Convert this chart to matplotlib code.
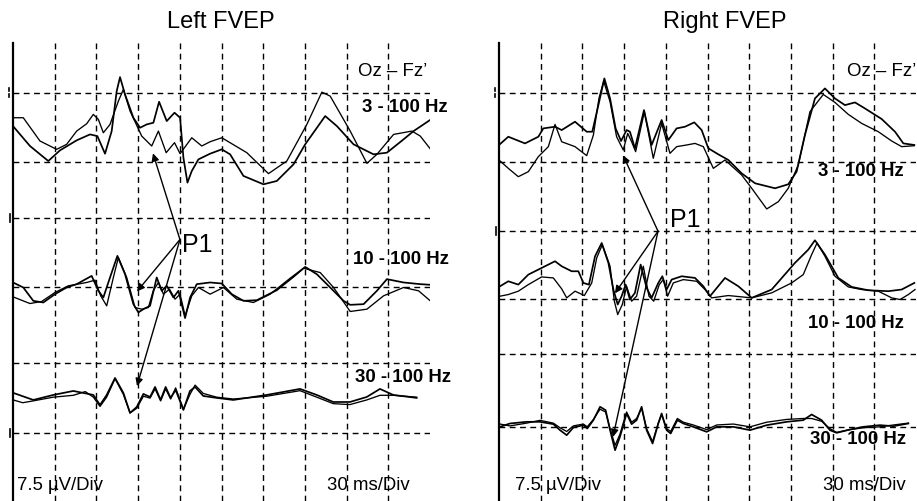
import matplotlib
matplotlib.use("Agg")
import matplotlib.pyplot as plt
from matplotlib.lines import Line2D

plt.rcParams['font.family'] = ['Liberation Sans', 'DejaVu Sans']

# ---------------- data (time in ms, amplitude in µV relative to band baseline) ----------------
grid_t = [30, 60, 90, 120, 150, 180, 210, 240, 270]
left_hlines = [44.0, 36.6, 30.5, 23.1, 14.9, 7.3]
right_hlines = [44.0, 36.6, 29.1, 21.8, 15.9, 8.0]
left_offsets = [36.6, 23.1, 10.9]
right_offsets = [36.6, 21.8, 8.0]
bands = ["3 - 100 Hz", "10 - 100 Hz", "30 - 100 Hz"]

# Left FVEP, 3-100 Hz
L1a_t = [0, 12.2, 25.4, 33.8, 45.8, 55.4, 60.7, 66.2, 71.0, 74.6, 77.0, 80.6, 86.6, 91.4, 96.2, 101.0,
         105.1, 110.6, 116.2, 120.2, 122.6, 125.5, 128.6, 133.4, 141.8, 150.2, 156.2, 165.8, 180.2,
         189.8, 201.8, 210.2, 224.6, 233.0, 245.0, 259.4, 269.0, 281.0, 288.2, 300.7]
L1a_v = [3.84, 1.69, 0.07, 1.22, 2.30, 2.94, 2.76, 0.86, 3.30, 7.61, 9.12, 7.25, 4.74, 3.66, 4.02, 4.20,
         6.46, 4.38, 5.28, 4.74, 0.43, -2.26, -1.01, 0.25, 0.86, 1.33, 0.79, -1.54, -2.44,
         -2.08, -0.29, 1.87, 4.92, 3.84, 1.87, 0.79, 0.97, 2.41, 3.30, 4.56]
L1b_t = [0, 7.4, 19.4, 31.4, 38.6, 45.8, 53.0, 57.8, 61.4, 65.0, 69.8, 75.8, 79.4, 84.2, 92.6, 99.8,
         104.6, 110.2, 116.2, 120.2, 128.6, 135.8, 141.8, 150.2, 168.2, 183.8, 197.0, 211.4, 222.2,
         228.2, 242.6, 254.6, 261.8, 273.8, 287.0, 293.0, 301.4]
L1b_v = [4.74, 4.74, 2.23, 1.33, 1.87, 3.30, 4.09, 5.10, 4.56, 3.12, 4.02, 6.53, 7.79, 5.46, 2.76, 1.69,
         3.30, 0.97, 2.05, 0.86, 2.58, 1.69, 2.15, 2.58, 0.97, -1.29, 0.07, 4.02, 7.50,
         7.07, 3.30, -0.18, 0.79, 2.94, 3.30, 2.76, 1.15]

# Left FVEP, 10-100 Hz
L2a_t = [0, 7.4, 14.6, 21.8, 30.2, 38.6, 45.8, 56.6, 61.4, 65.0, 69.8, 75.1, 80.6, 86.6, 90.2, 93.8,
         98.6, 103.4, 107.0, 110.6, 115.4, 119.0, 123.8, 127.4, 132.2, 141.8, 150.2, 157.4, 165.8,
         175.4, 189.8, 201.8, 210.2, 218.6, 228.2, 237.8, 242.6, 252.2, 261.8, 269.0, 281.0, 293.0, 300.2]
L2a_v = [0.47, -0.07, -1.51, -1.69, -0.79, -0.07, 0.29, 1.18, -0.43, -1.15, 1.01, 3.34, 1.36, -1.87,
         -2.76, -2.41, -2.05, 1.01, -0.43, 0.11, -1.15, -0.43, -3.37, -1.15, 0.29, 0.47, 0.36, -0.79,
         -1.51, -1.44, -0.36, 1.08, 2.15, 1.36, -0.07, -1.51, -1.94, -1.87, -0.43, 0.83, 0.47, 0.29, 0.22]
L2b_t = [0, 12.2, 20.6, 30.2, 39.8, 53.0, 59.0, 63.1, 67.4, 72.2, 75.8, 81.8, 87.8, 92.6, 97.4, 100.9,
         104.6, 108.2, 112.6, 116.6, 120.2, 123.8, 128.6, 133.4, 141.8, 151.4, 161.0, 173.0, 185.0,
         199.4, 209.0, 221.0, 230.6, 242.6, 254.6, 266.6, 281.0, 291.8, 300.2]
L2b_v = [-1.08, -1.80, -1.58, -0.61, 0.11, 0.47, 0.72, -0.97, -2.05, 1.01, 3.16, 1.01, -2.23, -2.41,
         -2.23, -0.43, 0.47, -0.79, -0.25, -1.33, -0.79, -3.12, -0.97, -0.07, -0.79, -0.07, -1.33,
         -1.69, -0.79, 0.93, 2.01, 1.54, -0.07, -2.66, -2.41, -0.97, -0.07, -0.43, -1.51]

# Left FVEP, 30-100 Hz
L3a_t = [0.2, 14.6, 29.0, 43.4, 57.8, 62.6, 67.4, 73.4, 79.4, 84.2, 89.0, 93.8, 98.6, 102.2, 106.2,
         109.8, 113.4, 117.0, 122.6, 127.3, 131.0, 136.9, 146.5, 158.5, 182.5, 206.5, 218.5, 230.4,
         242.4, 254.5, 264.0, 273.6, 290.4]
L3a_v = [0.76, 0.0, 0.54, 0.97, 0.54, -0.54, 0.54, 2.37, 0.76, -1.40, -0.76, 0.65, 0.32, 1.40, 0.0,
         1.40, 0.22, 1.08, -1.08, 0.97, 1.40, 0.43, 0.22, 0.0, 0.54, 1.19, 0.54, -0.22,
         -0.22, 0.32, 1.19, 0.54, 0.22]
L3b_t = [0.2, 7.0, 14.6, 29.0, 43.4, 52.0, 57.8, 62.6, 67.4, 73.4, 79.4, 84.2, 89.0, 93.8, 98.6, 102.2,
         106.2, 109.8, 113.4, 117.0, 122.6, 127.3, 131.0, 136.9, 146.5, 158.5, 182.5, 206.5, 218.5,
         230.4, 242.4, 254.5, 264.0, 273.6, 290.4]
L3b_v = [0.0, -0.3, -0.1, 0.3, 0.5, 0.9, 0.3, -0.7, 0.3, 2.3, 0.6, -1.4, -0.9, 0.4, 0.2, 1.2,
         -0.1, 1.2, 0.1, 1.3, -1.0, 0.6, 1.6, 0.7, 0.3, 0.1, 0.4, 1.0, 0.3,
         -0.4, -0.5, 0.0, 0.5, 0.5, 0.3]

# Right FVEP, 3-100 Hz
R1a_t = [0, 6.7, 18.7, 28.3, 31.9, 40.3, 45.1, 54.7, 63.1, 67.1, 71.5, 75.8, 79.9, 83.9, 87.8, 91.8,
         94.2, 97.8, 104.3, 109.8, 117.0, 121.8, 127.8, 133.8, 140.5, 145.8, 150.6, 157.8, 165.0,
         174.6, 184.2, 198.6, 208.1, 214.1, 220.1, 227.3, 234.5, 241.7, 248.9, 256.1, 263.3, 275.3,
         284.9, 290.9, 298.8]
R1a_v = [1.80, 2.69, 1.97, 2.69, 3.59, 3.77, 3.41, 4.31, 3.23, 3.23, 6.10, 8.98, 6.82, 3.59, 2.23, 3.41,
         3.23, 1.44, 5.56, 1.80, 4.49, 2.33, 3.59, 3.77, 4.24, 3.41, 1.44, 0.79, 0.18,
         -1.26, -2.33, -2.87, -2.44, -1.08, 2.87, 6.82, 7.90, 6.82, 6.10, 6.39, 5.74, 4.60,
         3.23, 1.97, 1.80]
R1b_t = [0, 6.7, 13.9, 21.1, 28.3, 35.5, 40.3, 45.1, 54.7, 63.1, 67.9, 71.9, 75.3, 79.9, 84.6, 89.4,
         92.6, 95.4, 98.3, 104.6, 111.0, 117.0, 123.0, 127.8, 135.0, 141.0, 147.0, 154.2, 162.6,
         174.6, 181.8, 192.6, 201.0, 208.1, 215.3, 223.7, 233.3, 241.7, 251.3, 260.9, 272.9, 282.5,
         289.7, 298.8]
R1b_v = [0.18, -0.72, -1.62, -1.08, 0.54, 1.62, 4.02, 2.15, 1.62, 0.65, 2.87, 6.82, 8.69, 6.46, 2.69,
         1.26, 3.05, 2.15, 1.08, 5.39, 0.36, 4.13, 0.90, 1.62, 1.80, 1.97, 1.62, -0.72, 0.18,
         -1.44, -2.87, -5.10, -4.31, -2.87, -0.36, 5.39, 7.25, 6.39, 5.10, 4.13, 3.23, 2.23,
         1.62, 1.72]

# Right FVEP, 10-100 Hz
R2a_t = [0.7, 6.7, 13.9, 21.1, 30.7, 40.3, 45.1, 52.3, 57.1, 60.7, 64.7, 69.1, 73.9, 78.7, 82.3, 85.4,
         88.2, 91.1, 94.2, 97.8, 101.9, 106.2, 109.8, 114.6, 117.5, 120.6, 124.2, 131.4, 141.0, 147.0,
         151.8, 162.6, 172.2, 181.8, 196.2, 212.9, 222.5, 227.3, 234.5, 244.1, 253.7, 265.7, 280.1,
         289.7, 298.8]
R2a_v = [1.36, 1.90, 1.54, 2.62, 3.34, 4.06, 3.52, 2.98, 2.98, 1.72, 1.54, 4.60, 6.03, 3.88, 1.01,
         -0.61, 0.29, 1.54, -0.07, 0.65, 3.70, 1.18, 0.11, 1.72, 2.44, 1.01, 2.08, 2.44, 2.26, 1.36,
         0.29, 2.26, 1.36, 0.11, 1.01, 3.88, 5.31, 6.32, 4.77, 2.26, 1.29, 0.93, 0.83,
         1.01, 1.72]
R2b_t = [0.7, 6.7, 13.9, 21.1, 30.7, 39.1, 45.1, 48.7, 54.7, 61.4, 66.7, 70.3, 74.3, 79.9, 83.0, 85.4,
         88.7, 91.8, 95.4, 99.0, 103.8, 107.9, 111.3, 115.3, 118.2, 121.3, 125.4, 132.6, 142.2, 148.2,
         153.0, 165.0, 181.8, 196.2, 210.5, 218.9, 224.9, 228.8, 234.5, 241.7, 251.3, 260.9, 272.9,
         282.5, 288.5, 294.5, 299.3]
R2b_v = [0.29, 0.47, 0.83, 1.54, 2.37, 2.26, 1.08, 0.11, 0.83, 0.36, 1.72, 4.42, 5.85, 3.52, -0.25,
         -1.69, -0.61, 1.36, -0.25, 0.29, 3.52, 0.29, -0.25, 1.54, 2.08, 0.29, 1.72, 2.08, 1.90, 1.01,
         0.11, 0.36, 0.11, 0.65, 1.72, 2.62, 4.77, 6.03, 4.60, 2.44, 1.29, 1.01, 0.83,
         0.11, -0.07, 0.47, 1.01]

# Right FVEP, 30-100 Hz
R3a_t = [0.7, 7.9, 19.9, 29.5, 39.1, 43.9, 48.7, 53.5, 60.7, 63.5, 67.9, 72.7, 76.7, 79.9, 83.5, 87.0,
         91.8, 95.4, 99.0, 102.6, 106.2, 110.5, 114.6, 117.0, 120.6, 123.5, 128.3, 132.6, 139.8, 149.4,
         156.6, 168.6, 180.6, 192.6, 207.0, 218.9, 224.9, 232.1, 238.1, 242.9, 252.5, 262.1, 274.1,
         283.7, 294.5]
R3a_v = [0.0, 0.36, 0.54, 0.54, 0.29, -0.36, -0.90, -0.07, 0.18, -0.18, 0.72, 2.16, 1.80, -0.36, -2.52,
         -1.08, 1.44, 0.29, 0.72, 2.16, -0.36, -1.80, 0.36, 1.44, -0.36, -0.72, 0.72, 0.36, 0.0, -0.54,
         0.0, 0.0, -0.36, 0.18, 0.54, 0.72, 1.33, 0.72, -0.36, -0.65, -0.29, 0.0, 0.18,
         0.07, 0.36]
R3b_t = R3a_t
R3b_v = [0.3, 0.1, 0.4, 0.7, 0.4, -0.1, -0.5, 0.1, 0.3, 0.0, 0.8, 1.9, 1.6, -0.2, -2.0,
         -0.8, 1.6, 0.5, 0.9, 2.0, -0.2, -1.6, 0.4, 1.3, -0.2, -0.5, 0.9, 0.5, 0.2, -0.3,
         0.2, 0.3, 0.0, 0.5, 0.8, 0.9, 0.9, 0.6, -0.2, -0.6, -0.3, -0.1, 0.0,
         0.2, 0.4]

left_traces = [[(L1a_t, L1a_v), (L1b_t, L1b_v)],
               [(L2a_t, L2a_v), (L2b_t, L2b_v)],
               [(L3a_t, L3a_v), (L3b_t, L3b_v)]]
right_traces = [[(R1a_t, R1a_v), (R1b_t, R1b_v)],
                [(R2a_t, R2a_v), (R2b_t, R2b_v)],
                [(R3a_t, R3a_v), (R3b_t, R3b_v)]]

# P1 annotation: label point and arrow targets (ms, µV absolute)
left_p1_origin = (120.1, 28.2)
left_p1_tips = [(100.7, 37.5), (89.2, 22.6), (89.2, 12.4)]
right_p1_origin = (114.4, 29.1)
right_p1_tips = [(89.2, 37.3), (83.4, 22.4), (82.0, 6.9)]

# ---------------- figure ----------------
W, H = 917, 501
fig = plt.figure(figsize=(W / 100, H / 100), dpi=100)


def fx(px):
    return px / W


def fy(py):
    return 1 - py / H


DASH = (0, (4.2, 3.2))
ax_l = fig.add_axes([fx(13), 0, fx(430) - fx(13), 458 / H])
ax_r = fig.add_axes([fx(499), 0, fx(916) - fx(499), 458 / H])

for ax, hl, offs, traces in [(ax_l, left_hlines, left_offsets, left_traces),
                             (ax_r, right_hlines, right_offsets, right_traces)]:
    ax.set_xlim(0, 300)
    ax.set_ylim(0, 49.4)
    ax.set_xticks([])
    ax.set_yticks([])
    for s in ['top', 'right', 'bottom']:
        ax.spines[s].set_visible(False)
    ax.spines['left'].set_linewidth(1.6)
    for t in grid_t:
        ax.axvline(t, color='black', lw=1.0, ls=DASH)
    for v in hl:
        ax.axhline(v, color='black', lw=1.0, ls=DASH)
    for off, pair in zip(offs, traces):
        for k, (tt, vv) in enumerate(pair):
            ax.plot(tt, [off + x for x in vv], color='black',
                    lw=1.25 if k == 0 else 0.95, solid_joinstyle='round')

arrowprops = dict(arrowstyle='-|>', color='black', lw=1.0, mutation_scale=11,
                  shrinkA=0, shrinkB=0)
for ax, org, tips in [(ax_l, left_p1_origin, left_p1_tips), (ax_r, right_p1_origin, right_p1_tips)]:
    for tip in tips:
        ax.annotate('', xy=tip, xytext=org, arrowprops=arrowprops)

# small marks at the left of each axis
for (xp, yp, kind) in [(9, 93, ':'), (10, 218, '|'), (10, 433, '|'), (495, 93, ':'), (496, 231, '|')]:
    if kind == '|':
        fig.add_artist(Line2D([fx(xp), fx(xp)], [fy(yp - 4), fy(yp + 4)], color='black', lw=1.2))
    else:
        fig.add_artist(Line2D([fx(xp), fx(xp)], [fy(yp - 5), fy(yp - 2)], color='black', lw=1.2))
        fig.add_artist(Line2D([fx(xp), fx(xp)], [fy(yp + 1), fy(yp + 4)], color='black', lw=1.2))

# ---------------- texts ----------------
fs = 13.4
fig.text(fx(221), fy(22), "Left FVEP", ha='center', va='center', fontsize=17)
fig.text(fx(725), fy(22), "Right FVEP", ha='center', va='center', fontsize=17)

fig.text(fx(358), fy(72), "Oz – Fz’", ha='left', va='center', fontsize=fs)
fig.text(fx(847), fy(72), "Oz – Fz’", ha='left', va='center', fontsize=fs)

for (xp, yp), lab in zip([(362, 107), (353, 260), (355, 377)], bands):
    fig.text(fx(xp), fy(yp), lab, ha='left', va='center', fontsize=fs, fontweight='bold')
for (xp, yp), lab in zip([(818, 172), (808, 323), (810, 440)], bands):
    fig.text(fx(xp), fy(yp), lab, ha='left', va='center', fontsize=fs, fontweight='bold')

fig.text(fx(17), fy(485), "7.5 µV/Div", ha='left', va='center', fontsize=fs)
fig.text(fx(327), fy(485), "30 ms/Div", ha='left', va='center', fontsize=fs)
fig.text(fx(515), fy(485), "7.5 µV/Div", ha='left', va='center', fontsize=fs)
fig.text(fx(823), fy(485), "30 ms/Div", ha='left', va='center', fontsize=fs)

fig.text(fx(182), fy(245), "P1", ha='left', va='center', fontsize=18)
fig.text(fx(670), fy(220), "P1", ha='left', va='center', fontsize=18)

fig.savefig("out.png", dpi=100, facecolor='white')
